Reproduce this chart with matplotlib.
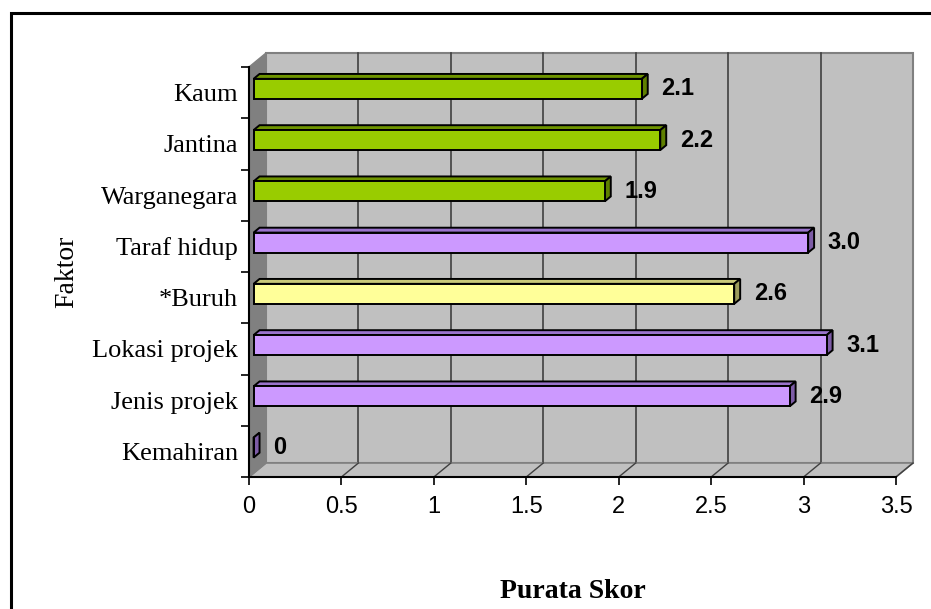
# Carta bar 3D: purata skor mengikut faktor
import matplotlib.pyplot as plt
from matplotlib.patches import Polygon, Rectangle

# Data
faktor = ['Kaum', 'Jantina', 'Warganegara', 'Taraf hidup', '*Buruh',
          'Lokasi projek', 'Jenis projek', 'Kemahiran']
skor = [2.1, 2.2, 1.9, 3.0, 2.6, 3.1, 2.9, 0]
label_skor = ['2.1', '2.2', '1.9', '3.0', '2.6', '3.1', '2.9', '0']
kumpulan = ['hijau', 'hijau', 'hijau', 'ungu', 'kuning', 'ungu', 'ungu', 'ungu']
x_ticks = [0, 0.5, 1, 1.5, 2, 2.5, 3, 3.5]
x_labels = ['0', '0.5', '1', '1.5', '2', '2.5', '3', '3.5']

# warna: (depan, atas, sisi)
warna = {
    'hijau': ('#99cc00', '#6f9400', '#5f8000'),
    'ungu': ('#cc99ff', '#9a73cc', '#7d5ca6'),
    'kuning': ('#ffff99', '#c8c87a', '#9c9c5c'),
}

W, H = 931, 609
fig = plt.figure(figsize=(W / 100, H / 100), dpi=100)
ax = fig.add_axes([249 / W, (H - 477) / H, (896 - 249) / W, (477 - 67) / H])

n = len(faktor)
ypos = [n - 1 - i for i in range(n)]
xmax = x_ticks[-1]
ax.set_xlim(0, xmax)
ax.set_ylim(-0.5, n - 0.5)

# anjakan kedalaman (3D) dalam unit data
DX = 17 / 647 * xmax
DY = 14 / 410 * n


def titik(x, y, d):
    return (x + d * DX, y + d * DY)


# dinding belakang
ax.add_patch(Rectangle(titik(0, -0.5, 1), xmax, n, fc='#c0c0c0', ec='#808080',
                       lw=1.5, zorder=0, clip_on=False))
for t in x_ticks[1:-1]:
    ax.plot([t + DX, t + DX], [-0.5 + DY, n - 0.5 + DY], color='#404040', lw=1.2,
            zorder=1, clip_on=False)

# lantai
ax.add_patch(Polygon([titik(0, -0.5, 0), titik(xmax, -0.5, 0), titik(xmax, -0.5, 1),
                      titik(0, -0.5, 1)], closed=True, fc='#c0c0c0', ec='#808080',
                     lw=1.2, zorder=1, clip_on=False))
for t in x_ticks[1:]:
    a, b = titik(t, -0.5, 0), titik(t, -0.5, 1)
    ax.plot([a[0], b[0]], [a[1], b[1]], color='#404040', lw=1.0, zorder=1, clip_on=False)

# dinding kiri
ax.add_patch(Polygon([titik(0, -0.5, 0), titik(0, -0.5, 1), titik(0, n - 0.5, 1),
                      titik(0, n - 0.5, 0)], closed=True, fc='#808080', ec='#808080',
                     lw=1, zorder=1, clip_on=False))

# bar 3D
h = 0.39
d0, d1 = 0.27, 0.62
for y, v, k, lbl in zip(ypos, skor, kumpulan, label_skor):
    depan, atas, sisi = warna[k]
    ax.add_patch(Polygon([titik(0, y + h / 2, d0), titik(v, y + h / 2, d0),
                          titik(v, y + h / 2, d1), titik(0, y + h / 2, d1)],
                         closed=True, fc=atas, ec='black', lw=1.4, zorder=3, clip_on=False))
    ax.add_patch(Polygon([titik(v, y - h / 2, d0), titik(v, y + h / 2, d0),
                          titik(v, y + h / 2, d1), titik(v, y - h / 2, d1)],
                         closed=True, fc=sisi, ec='black', lw=1.4, zorder=3, clip_on=False))
    ax.add_patch(Rectangle(titik(0, y - h / 2, d0), v, h, fc=depan, ec='black',
                           lw=1.4, zorder=4, clip_on=False))
    ax.annotate(lbl, xy=titik(v, y, d0), xytext=(14, 0), textcoords='offset points',
                ha='left', va='center', fontsize=17, fontweight='bold',
                family='Liberation Sans', zorder=5)

# paksi
for s in ['top', 'right']:
    ax.spines[s].set_visible(False)
for s in ['left', 'bottom']:
    ax.spines[s].set_color('black')
    ax.spines[s].set_linewidth(1.5)
    ax.spines[s].set_zorder(6)
ax.patch.set_visible(False)

ax.set_xticks(x_ticks)
ax.set_xticklabels(x_labels, family='Liberation Sans', fontsize=17)
ax.tick_params(axis='x', direction='out', length=5.5, width=1.2, pad=8)

ax.set_yticks(ypos)
ax.set_yticklabels(faktor, family='Liberation Serif', fontsize=19)
ax.tick_params(axis='y', which='major', length=0, pad=8)
ax.set_yticks([k - 0.5 for k in range(n + 1)], minor=True)
ax.tick_params(axis='y', which='minor', direction='out', length=5.5, width=1.2)

ax.set_ylabel('Faktor', family='Liberation Serif', fontsize=20, labelpad=9)
ax.set_xlabel('Purata Skor', family='Liberation Serif', fontsize=20,
              fontweight='bold', labelpad=44)

# bingkai carta
fig.add_artist(Rectangle((11 / W, -0.1), 1.2, (H - 13) / H + 0.1,
                         transform=fig.transFigure, fill=False, ec='black', lw=2.2))

fig.savefig('out.png', dpi=100)
